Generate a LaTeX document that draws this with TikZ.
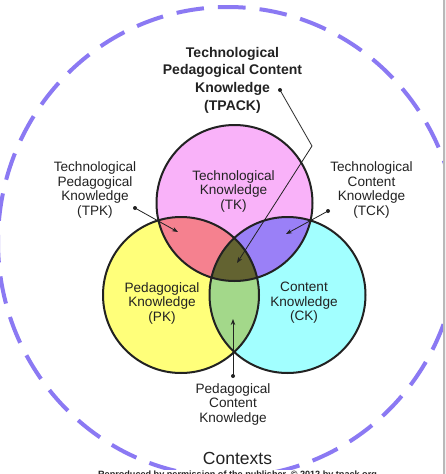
\documentclass[tikz,border=0pt]{standalone}
\usepackage{fontspec}
\setmainfont{Liberation Sans}
\usetikzlibrary{arrows.meta}
\definecolor{tkc}{HTML}{F9B2F9}
\definecolor{pkc}{HTML}{FFFF7A}
\definecolor{ckc}{HTML}{A2FFFF}
\definecolor{tpkc}{HTML}{F5818F}
\definecolor{tckc}{HTML}{9A80F7}
\definecolor{pckc}{HTML}{A3D88A}
\definecolor{tpackc}{HTML}{636331}
\definecolor{ctxc}{HTML}{8B79F3}
\definecolor{txt}{HTML}{222222}
\begin{document}
\begin{tikzpicture}[x=1pt,y=-1pt,
  lbl/.style={align=center,font=\fontsize{13.6}{14.5}\selectfont,text=txt,inner sep=0pt},
  ttl/.style={align=center,font=\fontsize{14}{17.7}\selectfont\bfseries,text=txt,inner sep=0pt},
  venn/.style={circle,minimum size=156pt,inner sep=0pt},
  ring/.style={draw=txt,line width=2pt},
  callout/.style={draw=txt,line width=0.8pt,-{Stealth[length=6pt,width=4.5pt]}},
  dotmark/.style={circle,fill=txt,inner sep=0pt,minimum size=4pt}]
\useasboundingbox (0,0) rectangle (446,474);
\clip (0,0) rectangle (446,474);
\fill[white] (0,0) rectangle (446,474);
% contexts ring
\draw[ctxc,line width=4pt,dash pattern=on 27.7pt off 14.04pt,dash phase=41.28pt] (228,242) ellipse[x radius=230,y radius=235];
% circle regions
\fill[tkc] (234.5,203) circle[radius=78];
\fill[pkc] (181,295) circle[radius=78];
\fill[ckc] (287.5,295) circle[radius=78];
\begin{scope}
  \clip (234.5,203) circle[radius=78];
  \fill[tpkc] (181,295) circle[radius=78];
  \fill[tckc] (287.5,295) circle[radius=78];
\end{scope}
\begin{scope}
  \clip (181,295) circle[radius=78];
  \fill[pckc] (287.5,295) circle[radius=78];
\end{scope}
\begin{scope}
  \clip (234.5,203) circle[radius=78];
  \clip (181,295) circle[radius=78];
  \fill[tpackc] (287.5,295) circle[radius=78];
\end{scope}
\node[venn,ring] (TK) at (234.5,203) {};
\node[venn,ring] (PK) at (181,295) {};
\node[venn,ring] (CK) at (287.5,295) {};
% labels
\node[ttl] (tpack) at (232.5,80) {Technological\\Pedagogical Content\\Knowledge\\(TPACK)};
\node[lbl] (tk) at (233.5,191) {Technological\\Knowledge\\(TK)};
\node[lbl] (tpk) at (95,190) {Technological\\Pedagogical\\Knowledge\\(TPK)};
\node[lbl] (tck) at (371.5,190) {Technological\\Content\\Knowledge\\(TCK)};
\node[lbl] (pk) at (162,303) {Pedagogical\\Knowledge\\(PK)};
\node[lbl] (ck) at (304,303) {Content\\Knowledge\\(CK)};
\node[lbl] (pck) at (233,404) {Pedagogical\\Content\\Knowledge};
\node[inner sep=0pt,text=txt,font=\fontsize{17.5}{20}\selectfont] (ctx) at (237.5,458) {Contexts};
\node[fill=white,inner xsep=3pt,inner ysep=1pt,anchor=north,text=txt,font=\fontsize{9.1}{10}\selectfont\bfseries] (credit) at (237.5,469.5) {Reproduced by permission of the publisher, © 2012 by tpack.org};
% callouts
\node[dotmark] (d1) at (280,90) {};
\node[dotmark] (d2) at (135,208) {};
\node[dotmark] (d3) at (328,211) {};
\node[dotmark] (d4) at (233,376) {};
\coordinate (bend) at (312,146);
\coordinate (a1) at (237,263);
\coordinate (a2) at (178,232);
\coordinate (a3) at (286,234);
\coordinate (a4) at (233,319);
\draw[callout] (d1.center) -- (bend) -- (a1);
\draw[callout] (d2.center) -- (a2);
\draw[callout] (d3.center) -- (a3);
\draw[callout] (d4.center) -- (a4);
% screenshot edge
\fill[gray!55] (443,0) rectangle (445,474);
\fill[gray!12] (445,0) rectangle (446,474);
\end{tikzpicture}
\end{document}
